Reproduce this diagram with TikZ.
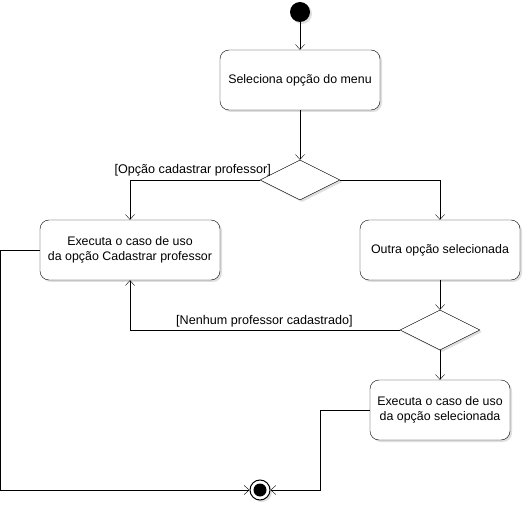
\documentclass[tikz,border=0pt]{standalone}
\usepackage{fontspec}
\setmainfont{Liberation Sans}
\usetikzlibrary{arrows.meta, shapes.geometric, shadows}

\begin{document}
\begin{tikzpicture}[x=1pt, y=-1pt,
        font=\fontsize{12.4}{15}\selectfont,
        >={Straight Barb[length=5pt, width=9pt]},
        shadowed/.style={drop shadow={opacity=0.25, shadow xshift=2pt, shadow yshift=-2pt}},
        action/.style={draw, rounded corners=9pt, fill=white, shadowed, align=center, inner sep=0pt},
        choice/.style={draw, diamond, fill=white, shadowed, minimum width=80pt, minimum height=40pt, inner sep=0pt, aspect=2},
        guard/.style={font=\fontsize{12.6}{14}\selectfont, inner sep=1pt}]
    \useasboundingbox (0,0) rectangle (525,505);
    % start and end
    \node[circle, fill=black, shadowed, minimum size=20pt, inner sep=0pt] (start) at (300,12) {};
    \node[circle, draw, fill=white, shadowed, minimum size=20pt, inner sep=0pt, line width=1pt] (stop) at (260,490) {};
    \fill (stop) circle (6.5pt);
    % actions
    \node[action, minimum width=160pt, minimum height=60pt] (menu) at (300,80) {Seleciona opção do menu};
    \node[action, minimum width=180pt, minimum height=60pt] (cadastrar) at (130,250) {Executa o caso de uso\\da opção Cadastrar professor};
    \node[action, minimum width=160pt, minimum height=60pt] (outra) at (440,250) {Outra opção selecionada};
    \node[action, minimum width=140pt, minimum height=60pt] (executa) at (440,410) {Executa o caso de uso\\da opção selecionada};
    % decisions
    \node[choice] (opcao) at (300,180) {};
    \node[choice] (nenhum) at (440,330) {};
    % flows
    \draw[->] (start) -- (menu);
    \draw[->] (menu) -- (opcao);
    \draw[->] (opcao.west) -| (cadastrar.north);
    \node[guard, anchor=south east] (comopcao) at (272,177) {[Opção cadastrar professor]};
    \draw[->] (opcao.east) -| (outra.north);
    \draw[->] (outra) -- (nenhum);
    \draw[->] (nenhum.west) -| (cadastrar.south);
    \node[guard, anchor=south west] (semprof) at (175,328) {[Nenhum professor cadastrado]};
    \draw[->] (nenhum) -- (executa);
    \draw[->] (executa.west) -- (320,410) |- (stop.east);
    \draw[->] (cadastrar.west) -- (0.5,250) |- (stop.west);
\end{tikzpicture}
\end{document}
